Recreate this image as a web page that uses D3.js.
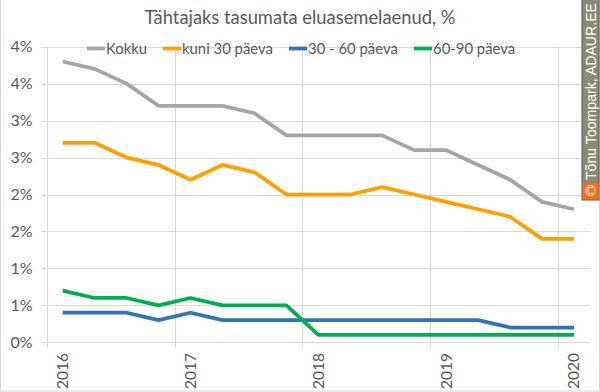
<!DOCTYPE html>
<html><head><meta charset="utf-8">
<script src="https://cdn.jsdelivr.net/npm/d3@7"></script>
<style>html,body{margin:0;padding:0;background:#fff;}svg{display:block;font-family:Lato,"Open Sans",sans-serif;}</style>
</head><body>
<svg id="c" width="600" height="392"></svg>
<script>
const title = "Tähtajaks tasumata eluasemelaenud, %";
const quarters = ["2016 Q1","2016 Q2","2016 Q3","2016 Q4","2017 Q1","2017 Q2","2017 Q3","2017 Q4","2018 Q1","2018 Q2","2018 Q3","2018 Q4","2019 Q1","2019 Q2","2019 Q3","2019 Q4","2020 Q1"];
const seriesNames = ["Kokku","kuni 30 päeva","30 - 60 päeva","60-90 päeva"];
const kokku   = [3.8,3.7,3.5,3.2,3.2,3.2,3.1,2.8,2.8,2.8,2.8,2.6,2.6,2.4,2.2,1.9,1.8];
const kuni30  = [2.7,2.7,2.5,2.4,2.2,2.4,2.3,2.0,2.0,2.0,2.1,2.0,1.9,1.8,1.7,1.4,1.4];
const p30_60  = [0.4,0.4,0.4,0.3,0.4,0.3,0.3,0.3,0.3,0.3,0.3,0.3,0.3,0.3,0.2,0.2,0.2];
const p60_90  = [0.7,0.6,0.6,0.5,0.6,0.5,0.5,0.5,0.1,0.1,0.1,0.1,0.1,0.1,0.1,0.1,0.1];
const yTicks = [0,0.5,1,1.5,2,2.5,3,3.5,4];
const yTickLabels = ["0%","1%","1%","2%","2%","3%","3%","4%","4%"];
const years = [2016,2017,2018,2019,2020];
const xLabelQuarters = ["2016 Q1","2017 Q1","2018 Q1","2019 Q1","2020 Q1"];
const colors = ["#a5a5a5","#ffa000","#2e75b6","#00b050"];
const watermark = "Tõnu Toompark, ADAUR.EE";

const seriesData = [kokku,kuni30,p30_60,p60_90];
const qPos = q => { const [yr, qq] = q.split(" Q"); return +yr + (+qq - 0.5)/4; };

const svg = d3.select("#c");
const x = d3.scaleLinear().domain([2016, 2020.25]).range([46.7, 590]);
const y = d3.scaleLinear().domain([0, 4]).range([342.3, 46.7]);
const txt = "#595959", grid = "#d9d9d9";

// outer border
svg.append("rect").attr("x",0.5).attr("y",-2).attr("width",599).attr("height",393)
  .attr("fill","none").attr("stroke","#d9d9d9");

// horizontal gridlines
svg.append("g").selectAll("line").data(yTicks).join("line")
  .attr("x1", x(2016)-5.5).attr("x2", x.range()[1])
  .attr("y1", d => Math.round(y(d))+0.5).attr("y2", d => Math.round(y(d))+0.5)
  .attr("stroke", grid).attr("stroke-width",1);
// vertical gridlines
svg.append("g").selectAll("line").data(years).join("line")
  .attr("x1", d => Math.round(x(d))+0.5).attr("x2", d => Math.round(x(d))+0.5)
  .attr("y1", y(4)).attr("y2", y(0)+5)
  .attr("stroke", grid).attr("stroke-width",1);

// y labels
svg.append("g").selectAll("text").data(yTicks).join("text")
  .attr("x", 32.5).attr("y", d => y(d)).attr("dy","0.35em")
  .attr("text-anchor","end").attr("fill",txt).attr("font-size",16)
  .text((d,i) => yTickLabels[i]);

// x labels
svg.append("g").selectAll("text").data(xLabelQuarters).join("text")
  .attr("transform", d => `translate(${x(qPos(d))},353) rotate(-90)`)
  .attr("dy","0.35em").attr("text-anchor","end").attr("fill",txt).attr("font-size",15.5)
  .text(d => d.split(" ")[0]);

// lines
const line = d3.line().x((d,i) => x(qPos(quarters[i]))).y(d => y(d));
seriesData.forEach((s, k) => {
  svg.append("path").datum(s).attr("d", line).attr("fill","none")
    .attr("stroke", colors[k]).attr("stroke-width",3.75)
    .attr("stroke-linejoin","round").attr("stroke-linecap","butt");
});

// title
const t = svg.append("text").attr("x",300).attr("y",24).attr("text-anchor","middle")
  .attr("fill",txt).attr("font-size",18.67).text(title);
const tw = t.node().getComputedTextLength();
t.attr("font-size", 18.67*311/tw);

// legend
const legX = [87, 163, 289, 414];
const leg = svg.append("g");
const legTexts = [];
seriesNames.forEach((n,k) => {
  leg.append("line").attr("x1", legX[k]).attr("x2", legX[k]+18).attr("y1",48.5).attr("y2",48.5)
    .attr("stroke", colors[k]).attr("stroke-width",3.75);
  legTexts.push(leg.append("text").attr("x", legX[k]+19).attr("y",48.5).attr("dy","0.35em")
    .attr("fill",txt).attr("font-size",16).text(n));
});
const lw = legTexts[1].node().getComputedTextLength();
legTexts.forEach(tt => tt.attr("font-size", 16*91/lw));

// watermark
const wm = svg.append("g");
wm.append("rect").attr("x",582).attr("y",-1).attr("width",17).attr("height",201)
  .attr("fill","#8b8b75").attr("stroke","#5a5a50").attr("stroke-width",1);
wm.append("rect").attr("x",582.5).attr("y",183).attr("width",16).attr("height",16.5)
  .attr("fill","#ff6a13");
wm.append("text").attr("x",590.5).attr("y",191.5).attr("dy","0.35em").attr("text-anchor","middle")
  .attr("fill","#fff").attr("font-size",14).attr("font-family","DejaVu Sans").text("©");
const wt = wm.append("text").attr("transform","translate(590.5,180) rotate(-90)")
  .attr("dy","0.36em").attr("fill","#fff").attr("font-size",13)
  .attr("font-family","Liberation Sans, Arial, sans-serif").text(watermark);
const ww = wt.node().getComputedTextLength();
wt.attr("font-size", 13*177/ww);
</script>
</body></html>
